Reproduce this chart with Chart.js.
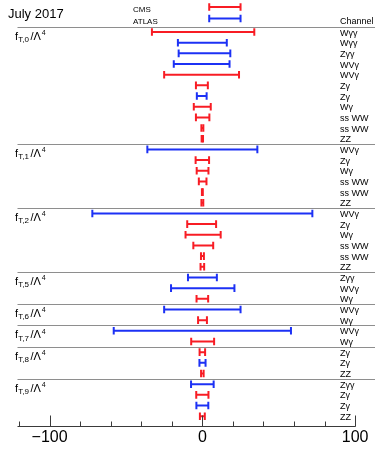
<!DOCTYPE html>
<html>
<head>
<meta charset="utf-8">
<script src="https://cdn.jsdelivr.net/npm/chart.js@4.4.0/dist/chart.umd.min.js"></script>
<style>
  html, body { margin: 0; padding: 0; background: #fff; }
  #wrap { width: 375px; height: 449px; }
</style>
</head>
<body>
<div id="wrap"><canvas id="myChart"></canvas></div>
<script>
// operator groups (subscript of f) and how many rows each one has
var groupNames = ['T,0', 'T,1', 'T,2', 'T,5', 'T,6', 'T,7', 'T,8', 'T,9'];
var groupSizes = [11, 6, 6, 3, 2, 2, 3, 4];

// one entry per row, top to bottom
var channels = [
  'Wγγ', 'Wγγ', 'Zγγ', 'WVγ', 'WVγ', 'Zγ', 'Zγ', 'Wγ', 'ss WW', 'ss WW', 'ZZ',
  'WVγ', 'Zγ', 'Wγ', 'ss WW', 'ss WW', 'ZZ',
  'WVγ', 'Zγ', 'Wγ', 'ss WW', 'ss WW', 'ZZ',
  'Zγγ', 'WVγ', 'Wγ',
  'WVγ', 'Wγ',
  'WVγ', 'Wγ',
  'Zγ', 'Zγ', 'ZZ',
  'Zγγ', 'Zγ', 'Zγ', 'ZZ'
];
var experiments = [
  'CMS', 'ATLAS', 'ATLAS', 'ATLAS', 'CMS', 'CMS', 'ATLAS', 'CMS', 'CMS', 'CMS', 'CMS',
  'ATLAS', 'CMS', 'CMS', 'CMS', 'CMS', 'CMS',
  'ATLAS', 'CMS', 'CMS', 'CMS', 'CMS', 'CMS',
  'ATLAS', 'ATLAS', 'CMS',
  'ATLAS', 'CMS',
  'ATLAS', 'CMS',
  'CMS', 'ATLAS', 'CMS',
  'ATLAS', 'CMS', 'ATLAS', 'CMS'
];
var lower = [
  -33, -16, -15.5, -18.7, -25, -4.2, -3.6, -5.6, -4.2, -0.62, -0.46,
  -36, -4.4, -3.7, -2.3, -0.28, -0.61,
  -72, -9.9, -11, -5.9, -0.89, -1.18,
  -9.4, -20.5, -3.8,
  -25, -2.8,
  -58, -7.3,
  -1.8, -1.9, -0.84,
  -7.4, -4.0, -3.9, -1.6
];
var upper = [
  34, 16, 18.3, 17.8, 24, 3.6, 2.8, 5.5, 4.6, 0.65, 0.44,
  36, 4.4, 4.0, 2.7, 0.31, 0.61,
  72, 9.0, 12, 7.1, 1.02, 1.18,
  9.5, 21, 3.8,
  25, 3.0,
  58, 7.7,
  1.8, 2.1, 0.84,
  7.4, 4.0, 3.9, 1.6
];

// legend entries (drawn as bars above the first group)
var legendNames = ['CMS', 'ATLAS'];
var legendRows = [-2.35, -1.26];
var legendRange = [4.5, 25];

var colors = { CMS: '#f81c24', ATLAS: '#1c31f5' };
var FONT = '"Liberation Sans", Arial, Helvetica, sans-serif';

var groupStarts = [];
var n = 0;
groupSizes.forEach(function(s) { groupStarts.push(n); n += s; });

function barDataset(lo, hi, row, color) {
  return {
    data: [{ x: lo, y: row }, { x: hi, y: row }],
    showLine: true,
    borderColor: color,
    borderWidth: 2,
    pointStyle: 'line',
    rotation: 90,
    pointRadius: 3.8,
    pointHoverRadius: 3.8,
    pointBorderColor: color,
    pointBorderWidth: 2
  };
}

var datasets = [];
legendNames.forEach(function(name, i) {
  datasets.push(barDataset(legendRange[0], legendRange[1], legendRows[i], colors[name]));
});
channels.forEach(function(c, i) {
  datasets.push(barDataset(lower[i], upper[i], i, colors[experiments[i]]));
});

var overlay = {
  id: 'overlay',
  beforeDatasetsDraw: function(chart) {
    var ctx = chart.ctx, y = chart.scales.y, area = chart.chartArea;
    ctx.save();
    ctx.strokeStyle = '#8e8e8e';
    ctx.lineWidth = 1.2;
    groupStarts.forEach(function(s) {
      var py = Math.round(y.getPixelForValue(s - 0.5)) + 0.5;
      ctx.beginPath();
      ctx.moveTo(area.left - 1.5, py);
      ctx.lineTo(chart.width, py);
      ctx.stroke();
    });
    ctx.restore();
  },
  afterDraw: function(chart) {
    var ctx = chart.ctx, x = chart.scales.x, y = chart.scales.y, area = chart.chartArea;
    ctx.save();

    // axis line with inward ticks
    var ay = Math.round(area.bottom) + 0.5;
    ctx.strokeStyle = '#3a3a3a';
    ctx.lineWidth = 1;
    ctx.beginPath();
    ctx.moveTo(area.left - 1.5, ay);
    ctx.lineTo(x.getPixelForValue(100) + 0.5, ay);
    ctx.stroke();
    for (var v = -120; v <= 100; v += 20) {
      var px = Math.round(x.getPixelForValue(v)) + 0.5;
      var len = (v % 100 === 0) ? 11 : 5;
      ctx.beginPath();
      ctx.moveTo(px, ay);
      ctx.lineTo(px, ay - len);
      ctx.stroke();
    }

    ctx.fillStyle = '#000';
    ctx.textAlign = 'left';
    ctx.textBaseline = 'alphabetic';

    // title and header
    ctx.font = '13px ' + FONT;
    ctx.fillText('July 2017', 8, 17.5);
    ctx.font = '9px ' + FONT;
    ctx.fillText('Channel', 340, 24);

    // legend text
    ctx.font = '8px ' + FONT;
    legendNames.forEach(function(name, i) {
      ctx.fillText(name, 133, y.getPixelForValue(legendRows[i]) + 5);
    });

    // channel labels
    ctx.font = '9px ' + FONT;
    channels.forEach(function(c, i) {
      ctx.fillText(c, 340, y.getPixelForValue(i) + 3.5);
    });

    // group labels f_{T,i} / Λ^4
    groupNames.forEach(function(g, i) {
      var base = y.getPixelForValue(groupStarts[i]) + 7.5;
      var x0 = 15;
      ctx.font = '11px ' + FONT;
      ctx.fillText('f', x0, base);
      var w = ctx.measureText('f').width + 0.3;
      ctx.font = '8px ' + FONT;
      ctx.fillText(g, x0 + w, base + 2.5);
      w += ctx.measureText(g).width + 1.5;
      ctx.font = '11px ' + FONT;
      ctx.fillText('/\u039B', x0 + w, base);
      w += ctx.measureText('/\u039B').width + 0.8;
      ctx.font = '7px ' + FONT;
      ctx.fillText('4', x0 + w, base - 4.5);
    });

    ctx.restore();
  }
};

var chart = new Chart(document.getElementById('myChart'), {
  type: 'scatter',
  data: { datasets: datasets },
  options: {
    responsive: true,
    maintainAspectRatio: false,
    animation: false,
    events: [],
    layout: { autoPadding: false, padding: { left: 19, right: 0, top: 0, bottom: 0 } },
    plugins: { legend: { display: false }, tooltip: { enabled: false } },
    scales: {
      x: {
        type: 'linear',
        min: -120,
        max: 113,
        border: { display: false },
        grid: { display: false, drawTicks: false },
        ticks: {
          stepSize: 20,
          includeBounds: false,
          autoSkip: false,
          maxRotation: 0,
          padding: 2,
          color: '#000',
          font: { family: FONT, size: 16 },
          callback: function(v) {
            if (v % 100 !== 0) return '';
            return v < 0 ? '\u2212' + (-v) : String(v);
          }
        }
      },
      y: {
        type: 'linear',
        display: false,
        reverse: true,
        min: -3,
        max: 36.9
      }
    }
  },
  plugins: [overlay]
});
</script>
</body>
</html>
